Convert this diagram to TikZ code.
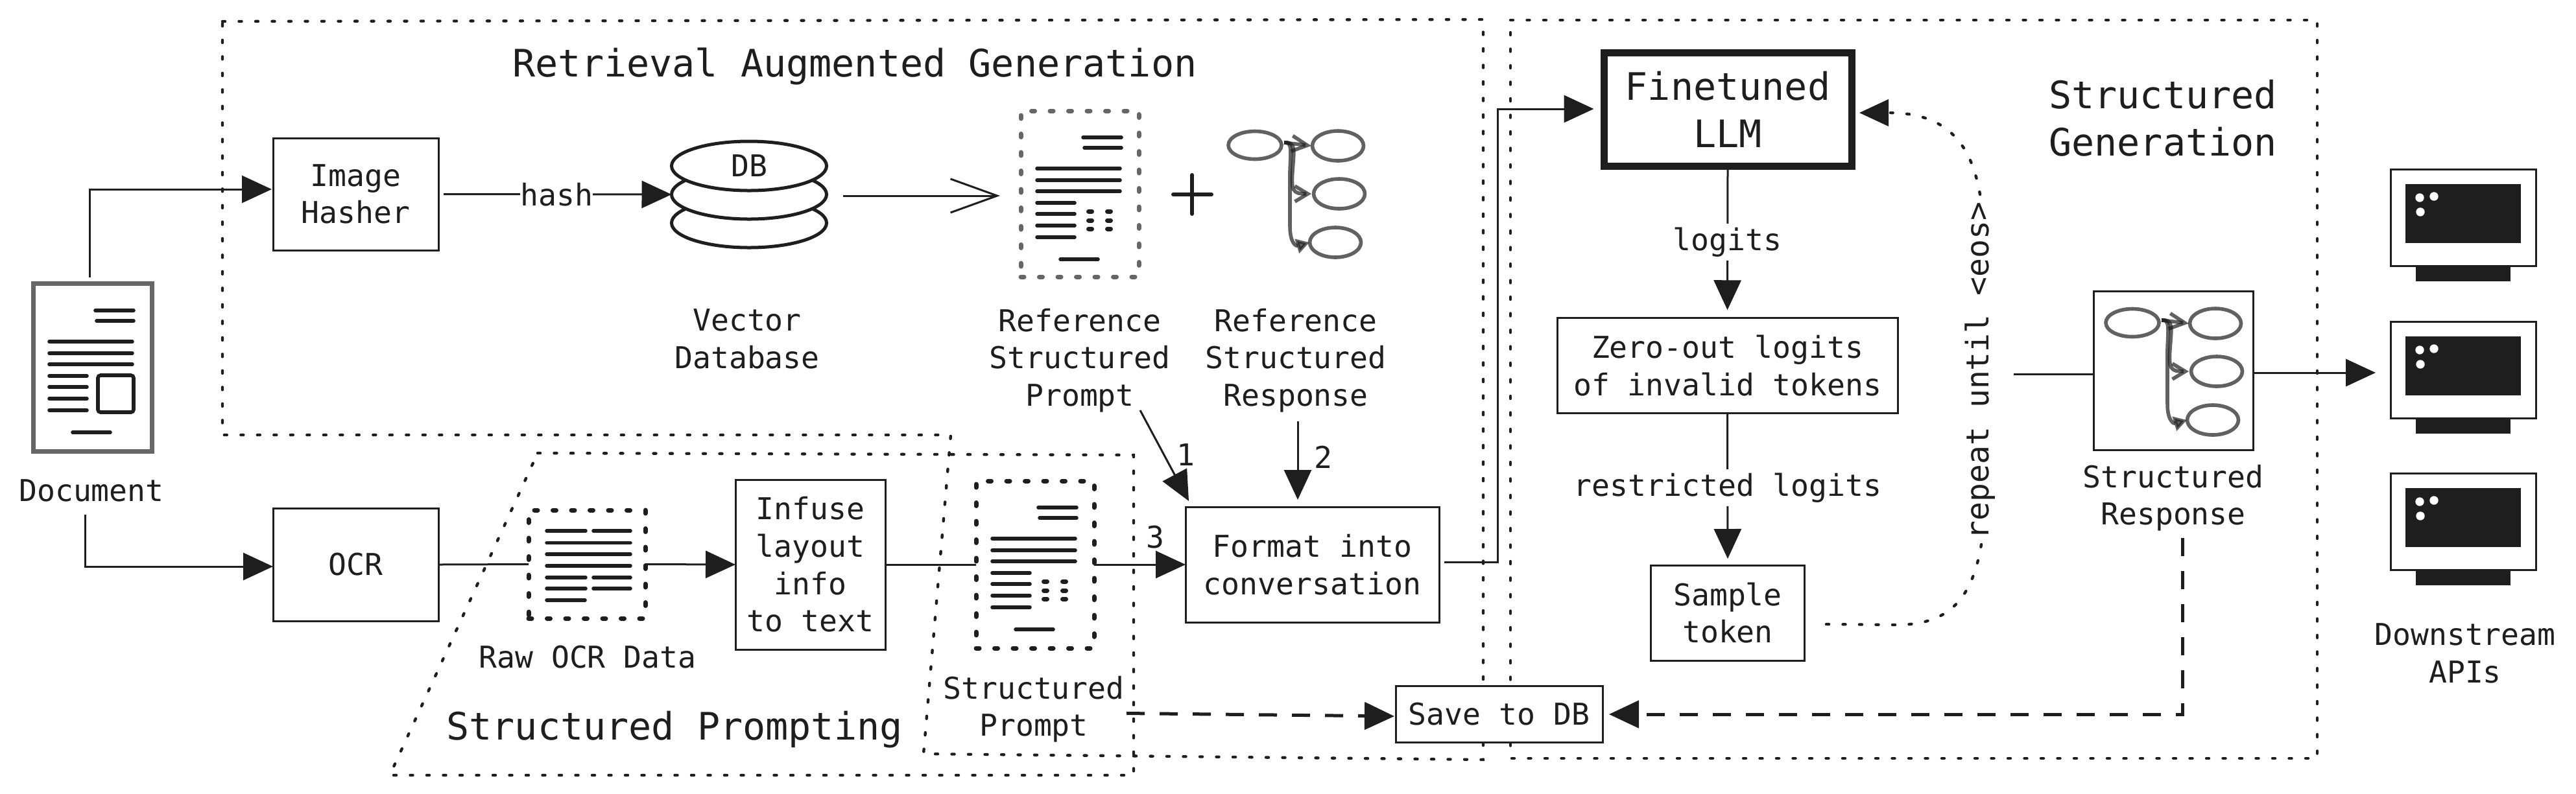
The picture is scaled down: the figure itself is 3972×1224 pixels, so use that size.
\documentclass[tikz,border=0pt]{standalone}
\usepackage{fontspec}
\setmonofont{DejaVu Sans Mono}
\usetikzlibrary{arrows.meta,shapes.geometric}
\definecolor{ink}{HTML}{1E1E1E}
\definecolor{midgray}{HTML}{666666}
\newcommand{\normfont}{\fontsize{11.6}{14.4}\selectfont\ttfamily}
\newcommand{\titlefont}{\fontsize{14.6}{18.3}\selectfont\ttfamily}
\tikzset{
  txt/.style={font=\normfont,text=ink,align=center,inner sep=0pt},
  ttl/.style={font=\titlefont,text=ink,align=center,inner sep=0pt},
  bx/.style 2 args={minimum width=#1*0.25pt,minimum height=#2*0.25pt},
  boxn/.style={txt,draw=ink,line width=.75pt,fill=white,outer sep=0pt},
  arr/.style={draw=ink,line width=.75pt,-{Triangle[length=11.5pt,width=10.5pt]}},
  plainline/.style={draw=ink,line width=.75pt},
  lab/.style={txt,fill=white,inner ysep=1.5pt},
  regiondots/.style={draw=ink,line width=1.1pt,line cap=round,dash pattern=on 1pt off 5.375pt},
  icondots/.style={line width=1.75pt,line cap=round,dash pattern=on 1.25pt off 5.875pt,inner sep=0pt,outer sep=0pt},
  longdash/.style={line width=1.25pt,dash pattern=on 7pt off 5.75pt},
  ell/.style={ellipse,draw=ink,fill=white,line width=1.25pt,minimum width=239*0.25pt,minimum height=76*0.25pt,inner sep=0pt,outer sep=0pt,txt},
  doclines/.pic={
    \draw[ink,line width=1.4pt,line cap=round]
      (96,41)--(155,41) (98,57)--(155,57)
      (25,89)--(153,89) (25,107)--(153,107) (25,124)--(153,124)
      (25,142)--(83,142) (25,159)--(83,159) (25,177)--(83,177) (25,195)--(83,195)
      (61,229)--(119,229);
  },
  docdots/.pic={
    \draw[ink,line width=1.75pt,line cap=round]
      (104.5,155)--(109.5,155) (133.5,155)--(138.5,155)
      (104.5,169)--(109.5,169) (133.5,169)--(138.5,169)
      (104.5,182)--(109.5,182) (133.5,182)--(138.5,182);
  },
  graphicon/.pic={
    \begin{scope}[draw=ink,opacity=.7,line width=1.4pt]
      \draw (0,0) ellipse[x radius=41,y radius=21.5];
      \draw (128,1) ellipse[x radius=39.5,y radius=23];
      \draw (130,75) ellipse[x radius=39.5,y radius=23];
      \draw (124,150) ellipse[x radius=39.5,y radius=23];
      \draw[line width=1.4pt,-{Straight Barb[length=6pt,width=6pt]}] (45,-4)--(87,1);
      \draw[line width=1.4pt,-{Straight Barb[length=5pt,width=6pt]}] (45,-4) .. controls (64,-6) and (60,10) .. (58,40) .. controls (56,70) and (58,75) .. (87,75);
      \draw[line width=1.4pt,-{Triangle[length=5pt,width=5.5pt]}] (45,-4) .. controls (58,-6) and (55,10) .. (54,40) -- (54,125) .. controls (54,152) and (64,156) .. (84,150);
    \end{scope}
  },
  monitoricon/.pic={
    \fill[ink] (39,149) rectangle (185,173);
    \draw[ink,line width=.75pt,fill=white] (0,0) rectangle (224,149);
    \fill[ink] (23,23) rectangle (201,114);
    \fill[white] (45,44) circle[radius=6.7] (67,42) circle[radius=6.7] (46,66) circle[radius=6.7];
  }
}
\begin{document}
\begin{tikzpicture}[x=0.25pt,y=-0.25pt]
\fill[white] (0,0) rectangle (3972,1224);
\useasboundingbox (0,0) rectangle (3972,1224);

% dotted regions
\draw[regiondots] (343,33)--(2287,30)--(2287,1172)--(1424,1163)--(1466,671)--(343,671)--cycle;
\draw[regiondots] (829,699)--(1748,702)--(1748,1196)--(601,1196)--cycle;
\draw[regiondots] (2329,31)--(3573,31)--(3573,1170)--(2329,1170)--cycle;

% titles
\node[ttl] (ragtitle) at (1318,102) {Retrieval Augmented Generation};
\node[ttl] (sptitle) at (1040,1126) {Structured Prompting};
\node[ttl] (sgtitle) at (3335,182) {Structured\\Generation};

% document icon
\node[draw=midgray,line width=1.75pt,inner sep=0pt,outer sep=0pt,bx={183}{258.5}] (doc) at (142.5,567) {};
\pic at (51,438) {doclines};
\draw[ink,line width=1.4pt,rounded corners=1pt] (151,579) rectangle (206,636);
\node[txt] (doclabel) at (141,757) {Document};

% boxes
\node[boxn,bx={255}{173}] (hasher) at (548.5,299.5) {Image\\Hasher};
\node[boxn,bx={255}{174}] (ocr) at (548.5,871) {\raisebox{-1pt}{OCR}};
\node[boxn,bx={231}{262}] (infuse) at (1249.5,871) {Infuse\\layout\\info\\to text};
\node[boxn,bx={391}{178}] (format) at (2023.5,871) {Format into\\conversation};
\node[boxn,bx={525}{147.5}] (zero) at (2663.5,564) {Zero-out logits\\of invalid tokens};
\node[boxn,bx={236.5}{147}] (sample) at (2664,945.5) {Sample\\token};
\node[boxn,bx={319}{87.5}] (save) at (2311.5,1102) {Save to DB};
\node[boxn,ttl,line width=2.75pt,fill=white,draw=ink,outer sep=0pt,bx={382}{174.5}] (llm) at (2664,169) {Finetuned\\LLM};
\node[boxn,bx={246}{245}] (response) at (3351,571.5) {};

% database
\node[ell] (dbb) at (1155,344) {};
\node[ell] (dbm) at (1155,300) {};
\node[ell] (dbt) at (1155,256) {DB};
\node[txt] (dblabel) at (1152,523) {Vector\\Database};

% reference structured prompt icon
\node[icondots,draw=midgray,bx={182}{256}] (refdoc) at (1665,299) {};
\pic at (1574,171) {doclines};
\pic at (1574,171) {docdots};
\draw[ink,line width=1.5pt,line cap=round] (1809,300)--(1868,300) (1838,270)--(1838,330);
\pic at (1935,224) {graphicon};
\node[txt] (refplabel) at (1665,556) {Reference\\Structured\\Prompt};
\node[txt] (refrlabel) at (1998,556) {Reference\\Structured\\Response};

% raw OCR icon
\node[icondots,draw=ink,bx={180}{167}] (rawicon) at (905,870.5) {};
\draw[ink,line width=1.4pt,line cap=round]
  (843,819)--(903,819) (915,819)--(972,819)
  (843,837.5)--(972,837.5) (843,855)--(972,855) (843,873)--(972,873)
  (843,891)--(903,891) (915,891)--(972,891)
  (843,908)--(903,908) (915,908)--(972,908)
  (843,926)--(902,926);
\node[txt] (rawlabel) at (906,1014) {Raw OCR Data};

% structured prompt icon
\node[icondots,draw=ink,bx={182}{258}] (spicon) at (1596,871) {};
\pic at (1505,742) {doclines};
\pic at (1505,742) {docdots};
\node[txt] (splabel) at (1594,1094) {Structured\\Prompt};

% structured response
\pic at (3288,498) {graphicon};
\node[txt] (resplabel) at (3351,768) {Structured\\Response};

% monitors
\pic at (3686,261) {monitoricon};
\pic at (3686,496) {monitoricon};
\pic at (3686,730) {monitoricon};
\node[txt] (apilabel) at (3801,1008) {Downstream\\APIs};

% free connector ends
\coordinate (docup) at (138.5,428);
\coordinate (hasherin) at (419,292);
\coordinate (docdown) at (131,794);
\coordinate (ocrin) at (421,874);
\coordinate (dbout) at (1300,302);
\coordinate (refin) at (1542,302);
\coordinate (oneout) at (1758,633);
\coordinate (onein) at (1833,773);
\coordinate (twoout) at (2001,650);
\coordinate (twoin) at (2001,771);
\coordinate (fmtout) at (2227,867);
\coordinate (fmtbend) at (2309,867);
\coordinate (llmin) at (2457.5,168);
\coordinate (saveout) at (1737,1100.5);
\coordinate (savein) at (2150,1105);
\coordinate (respdown) at (3365.5,829.5);
\coordinate (respin) at (3105,577);
\coordinate (apiin) at (3663,575);
\coordinate (respout) at (3474,575);
\coordinate (sampleout) at (2816,963);
\coordinate (llmback) at (2867,174);

% connectors
\draw[arr] (docup) |- (hasherin);
\draw[arr] (docdown) |- (ocrin);
\draw[arr,shorten <=8*0.25pt] (hasher.east) -- node[lab,pos=.507] (hashlabel) {hash} (dbm.west);
\draw[draw=ink,line width=.75pt,-{Straight Barb[length=18pt,width=13pt]}] (dbout) -- (refin);
\draw[plainline] (ocr.east) -- (rawicon.west);
\draw[arr] (rawicon.east) -- (infuse.west);
\draw[plainline] (infuse.east) -- (spicon.west);
\draw[arr] (spicon.east) -- (format.west);
\draw[arr] (oneout) -- (onein);
\draw[arr] (twoout) -- (twoin);
\draw[arr] (fmtout) -- (fmtbend) |- (llmin);
\draw[arr,shorten >=12*0.25pt] (llm.south) -- node[lab,pos=.5] (logitslabel) {logits} (zero.north);
\draw[arr,shorten >=10*0.25pt] (zero.south) -- node[lab,pos=.49] (restlabel) {restricted logits} (sample.north);
\draw[plainline] (respin) -- (response.west |- respin);
\draw[arr] (respout) -- (apiin);
\draw[arr,longdash] (saveout) -- (savein);
\draw[arr,longdash,shorten >=10*0.25pt] (respdown) |- (save.east);

% numbers
\node[txt] (numone) at (1828,702) {1};
\node[txt] (numtwo) at (2040,705) {2};
\node[txt] (numthree) at (1781,829) {3};

% repeat loop
\node[txt,font=\fontsize{12}{14}\selectfont\ttfamily,rotate=90] (repeat) at (3053,572) {repeat until <eos>};
\draw[regiondots] (sampleout) -- (2924,964) .. controls (3000,964) and (3040,930) .. (3055,840);
\draw[regiondots] (3053,300) .. controls (3040,225) and (3005,175) .. (2915,174);
\fill[ink] (llmback) -- (2912,153) -- (2912,195) -- cycle;
\end{tikzpicture}
\end{document}
